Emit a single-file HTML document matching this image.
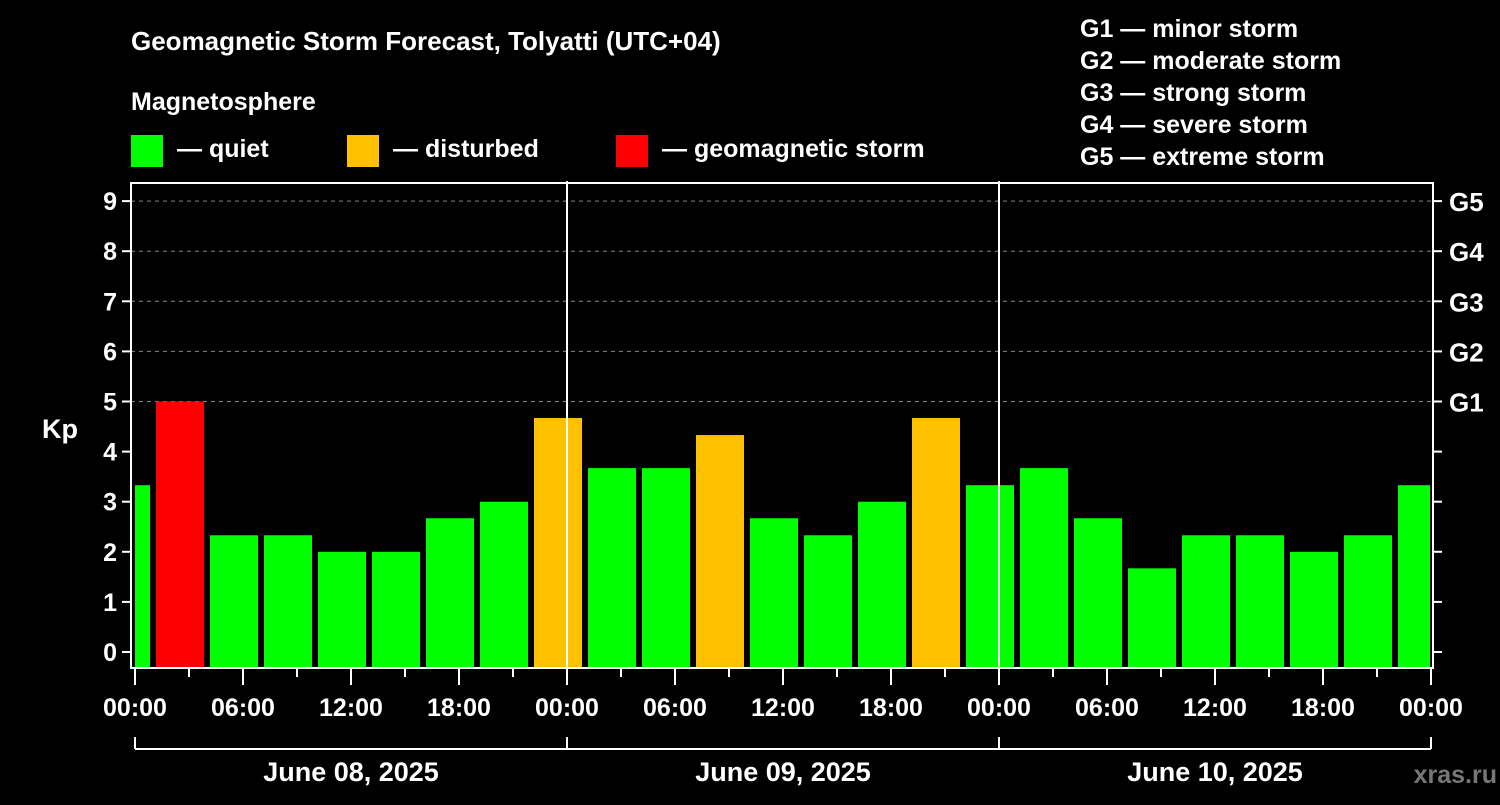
<!DOCTYPE html>
<html><head><meta charset="utf-8"><style>
body{margin:0;background:#000;width:1500px;height:800px;overflow:hidden;font-family:"Liberation Sans",sans-serif;}
</style></head><body>
<svg id="c" width="1500" height="800" xmlns="http://www.w3.org/2000/svg" font-family="Liberation Sans, sans-serif" font-weight="bold">
<text x="131" y="50" fill="#fff" font-size="26">Geomagnetic Storm Forecast, Tolyatti (UTC+04)</text>
<text x="131" y="110" fill="#fff" font-size="25">Magnetosphere</text>
<rect x="131" y="135" width="32" height="32" fill="#00ff00"/>
<text x="177" y="157" fill="#fff" font-size="25">— quiet</text>
<rect x="347" y="135" width="32" height="32" fill="#ffc000"/>
<text x="393" y="157" fill="#fff" font-size="25">— disturbed</text>
<rect x="616" y="135" width="32" height="32" fill="#ff0000"/>
<text x="662" y="157" fill="#fff" font-size="25">— geomagnetic storm</text>
<g fill="#fff" font-size="25">
<text x="1080" y="37">G1 — minor storm</text>
<text x="1080" y="69">G2 — moderate storm</text>
<text x="1080" y="101">G3 — strong storm</text>
<text x="1080" y="133">G4 — severe storm</text>
<text x="1080" y="165">G5 — extreme storm</text>
</g>
<text x="42" y="438" fill="#fff" font-size="27">Kp</text>
<text x="1497" y="783" fill="#777" font-size="25" text-anchor="end">xras.ru</text>
<g id="plot"></g>
</svg>
<script>
const yTicks=[0,1,2,3,4,5,6,7,8,9];
const gLabels=["G1","G2","G3","G4","G5"];
const gLevels=[5,6,7,8,9];
const xLabels=["00:00","06:00","12:00","18:00","00:00","06:00","12:00","18:00","00:00","06:00","12:00","18:00","00:00"];
const dayLabels=["June 08, 2025","June 09, 2025","June 10, 2025"];
// bar center hours from start (local time), Kp values
const hours=[-0.5,2.5,5.5,8.5,11.5,14.5,17.5,20.5,23.5,26.5,29.5,32.5,35.5,38.5,41.5,44.5,47.5,50.5,53.5,56.5,59.5,62.5,65.5,68.5,71.5];
const values=[3.33,5,2.33,2.33,2,2,2.67,3,4.67,3.67,3.67,4.33,2.67,2.33,3,4.67,3.33,3.67,2.67,1.67,2.33,2.33,2,2.33,3.33];

const NS="http://www.w3.org/2000/svg";
const g=document.getElementById('plot');
const L=131,R=1433,T=183,B=668,X0=135,PXH=18;
const xs=h=>X0+h*PXH;
const ys=v=>652-v*50.1;
function mk(t,a){const e=document.createElementNS(NS,t);for(const k in a)e.setAttribute(k,a[k]);g.appendChild(e);return e;}
// grid
gLevels.forEach(v=>{const e=mk('line',{x1:L,x2:R,y1:ys(v),y2:ys(v),stroke:'#888','stroke-dasharray':'4,4','stroke-width':1});

});
// bars
const clip=mk('clipPath',{id:'cp'});
const cr=document.createElementNS(NS,'rect');cr.setAttribute('x',X0);cr.setAttribute('y',T);cr.setAttribute('width',1430-X0);cr.setAttribute('height',B-T);clip.appendChild(cr);
values.forEach((v,i)=>{
 const c=v>=5?'#ff0000':(v>=4?'#ffc000':'#00ff00');
 const y=ys(v);
 const r=mk('rect',{x:xs(hours[i])-24,y:y,width:48,height:B-y,fill:c,'clip-path':'url(#cp)'});
 
 
});
// day separators
[1,2].forEach(d=>{const e=mk('line',{x1:xs(24*d),x2:xs(24*d),y1:T-2,y2:B,stroke:'#fff','stroke-width':2});

});
// frame
const f=mk('rect',{x:L,y:T,width:R-L,height:B-T,fill:'none',stroke:'#fff','stroke-width':2});


// y ticks
yTicks.forEach(v=>{
 mk('line',{x1:L-9,x2:L,y1:ys(v),y2:ys(v),stroke:'#fff','stroke-width':2});
 mk('line',{x1:R,x2:R+9,y1:ys(v),y2:ys(v),stroke:'#fff','stroke-width':2});
 const t=mk('text',{x:L-14,y:ys(v)+9,fill:'#fff','font-size':25,'text-anchor':'end'});t.textContent=v;
 
 
});
gLabels.forEach((s,i)=>{const t=mk('text',{x:1449,y:ys(gLevels[i])+10,fill:'#fff','font-size':26});t.textContent=s;
 
 });
// x ticks
for(let h=0;h<=72;h+=3){const major=h%6===0;mk('line',{x1:xs(h),x2:xs(h),y1:B,y2:B+(major?17:9),stroke:'#fff','stroke-width':2});}
xLabels.forEach((s,i)=>{const t=mk('text',{x:xs(i*6),y:716,fill:'#fff','font-size':25,'text-anchor':'middle'});t.textContent=s;
 
 });
// day bracket
mk('line',{x1:xs(0),x2:xs(72),y1:749,y2:749,stroke:'#fff','stroke-width':2});
for(let d=0;d<=3;d++)mk('line',{x1:xs(24*d),x2:xs(24*d),y1:737,y2:749,stroke:'#fff','stroke-width':2});
dayLabels.forEach((s,i)=>{const t=mk('text',{x:xs(24*i+12),y:781,fill:'#fff','font-size':27,'text-anchor':'middle'});t.textContent=s;
 
 });
</script>
</body></html>
